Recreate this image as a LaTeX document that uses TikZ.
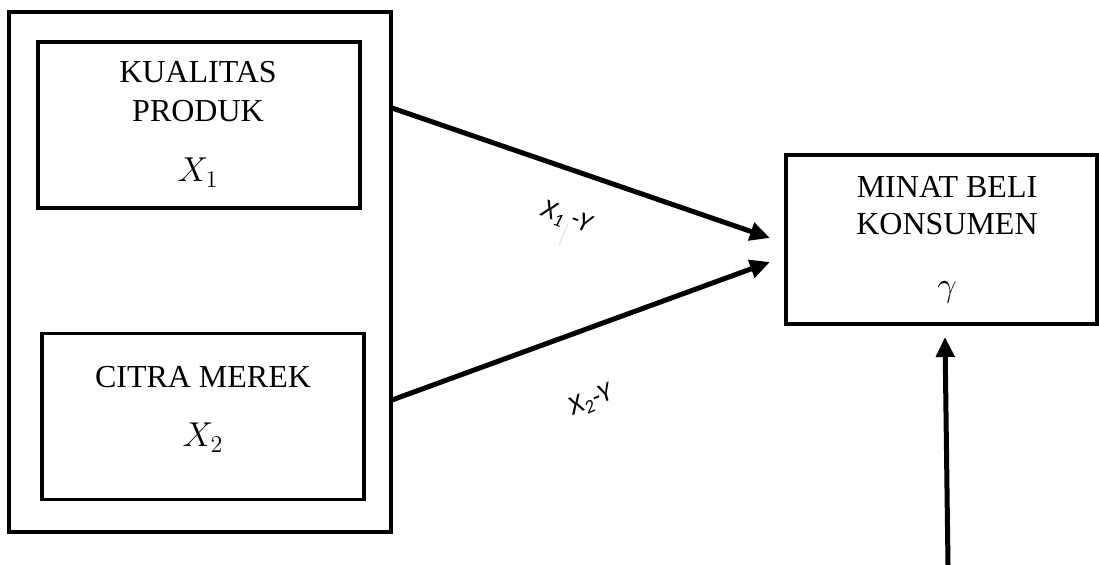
\documentclass[tikz,border=0pt]{standalone}
\usepackage{fontspec}
\setmainfont{Liberation Serif}
\newfontfamily\lblfont{Carlito}
\usetikzlibrary{arrows.meta}
\begin{document}
\begin{tikzpicture}[x=0.5pt,y=-0.5pt,
  boxo/.style={draw,line width=2pt,minimum width=191pt,minimum height=260pt,inner sep=0pt},
  boxi/.style={draw,line width=1.7pt,minimum width=161pt,minimum height=83pt,inner sep=0pt},
  boxr/.style={draw,line width=2pt,minimum width=155.5pt,minimum height=84.5pt,inner sep=0pt},
  txt/.style={anchor=base,font=\fontsize{16}{18}\selectfont,inner sep=0pt},
  mth/.style={anchor=base,font=\fontsize{17.5}{20}\selectfont,inner sep=0pt},
  lbl/.style={font=\lblfont\itshape\fontsize{13.5}{15}\selectfont,inner sep=0pt},
  arr/.style={line width=2.5pt,-{Triangle[length=10pt,width=9pt]}}]
\useasboundingbox (0,0) rectangle (1099,565);
\node[boxo] (outer) at (200,272) {};
\node[boxi] (b1) at (199,125) {};
\node[boxi] (b2) at (203,416.5) {};
\node[boxr] (r) at (941.5,239.5) {};
\node[txt] (t1a) at (198,83) {KUALITAS};
\node[txt] (t1b) at (198,122) {PRODUK};
\node[mth] (t1c) at (198,182) {$X_1$};
\node[txt] (t2a) at (203,388) {CITRA MEREK};
\node[mth] (t2b) at (203,447) {$X_2$};
\node[txt] (tra) at (947,198) {MINAT BELI};
\node[txt] (trb) at (947,235) {KONSUMEN};
\node[mth] (trc) at (947,297) {$\gamma$};
\coordinate (s1) at (392,108);
\coordinate (e1) at (770,238);
\coordinate (s2) at (392,400);
\coordinate (e2) at (770,262);
\coordinate (s3) at (948,565);
\coordinate (e3) at (945,337);
\draw[arr] (s1) -- (e1);
\draw[arr] (s2) -- (e2);
\draw[arr] (s3) -- (e3);
\node[lbl,rotate=-20] (l1) at (566,218) {X\textsubscript{1} -Y};
\node[lbl,rotate=23] (l2) at (591,401) {X\textsubscript{2}-Y};
\coordinate (g1) at (568,224);
\coordinate (g2) at (559,245);
\draw[black!15,line width=0.4pt] (g1) -- (g2);
\end{tikzpicture}
\end{document}
